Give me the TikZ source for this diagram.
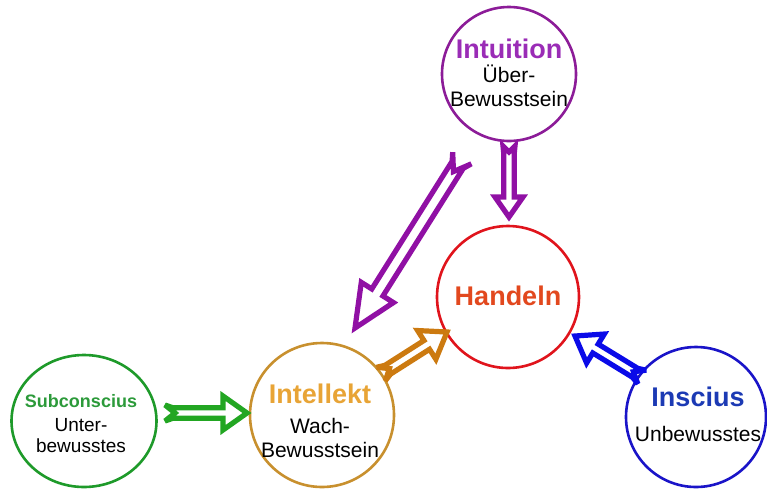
\documentclass[tikz,border=0pt]{standalone}
\usepackage{fontspec}
\setmainfont{Liberation Sans}
\usetikzlibrary{calc,shapes.geometric}

\definecolor{intucirc}{HTML}{8C1C98}
\definecolor{intutext}{HTML}{9A2CB6}
\definecolor{intuarrow}{HTML}{9010A4}
\definecolor{handcirc}{HTML}{E0141C}
\definecolor{handtext}{HTML}{E2481E}
\definecolor{intelcirc}{HTML}{C8902E}
\definecolor{inteltext}{HTML}{E8A436}
\definecolor{intelarrow}{HTML}{CC7A10}
\definecolor{subcirc}{HTML}{1E9A2A}
\definecolor{subtext}{HTML}{2C9A3A}
\definecolor{subarrow}{HTML}{22A622}
\definecolor{insccirc}{HTML}{1A14C8}
\definecolor{insctext}{HTML}{1C3AB4}
\definecolor{inscarrow}{HTML}{0A0AE8}

\newcommand{\headline}[2]{{\color{#1}\bfseries\fontsize{13.5}{14}\selectfont #2}}

% colour, tail, tip, shaft, tail flare, head length, head width, notch
\newcommand{\fatarrow}[8]{%
  \draw[fat, draw=#1]
    ($(#2)!#5!90:(#3)$) -- ($(#2)!4pt!(#3)!#4!90:(#3)$)
    -- ($(#3)!#6!(#2)!#4!90:(#3)$) -- ($(#3)!#6!(#2)!#7!90:(#3)$)
    -- (#3)
    -- ($(#3)!#6!(#2)!#7!-90:(#3)$) -- ($(#3)!#6!(#2)!#4!-90:(#3)$)
    -- ($(#2)!4pt!(#3)!#4!-90:(#3)$) -- ($(#2)!#5!-90:(#3)$)
    -- ($(#2)!#8!(#3)$) -- cycle;}

\begin{document}
\begin{tikzpicture}[x=0.5pt, y=-0.5pt,
  ring/.style={circle, draw, line width=1.3pt, inner sep=0pt},
  txt/.style={align=center, inner sep=0pt, font=\fontsize{10.5}{12}\selectfont},
  fat/.style={line width=2.6pt, fill=white, line join=miter, miter limit=3}]

 \useasboundingbox (0,0) rectangle (767,489);

 \node[ring, draw=intucirc, minimum size=67pt] (intu) at (509,74) {};
 \node[txt] (intutxt) at (509,73) {\headline{intutext}{Intuition}\\Über-\\Bewusstsein};

 \node[ring, draw=handcirc, minimum size=71pt] (hand) at (508,297) {};
 \node[txt] (handtxt) at (508,296) {\headline{handtext}{Handeln}};

 \node[ring, draw=intelcirc, minimum size=72pt] (intel) at (322,415) {};
 \node[txt] (inteltxt) at (320,421) {\headline{inteltext}{Intellekt}\\[3pt]Wach-\\Bewusstsein};

 \node[ring, ellipse, draw=subcirc, minimum width=72.5pt, minimum height=66pt] (sub) at (84,421) {};
 \node[txt, font=\fontsize{9.5}{10.5}\selectfont] (subtxt) at (81,424)
   {{\color{subtext}\bfseries\fontsize{9}{10}\selectfont Subconscius}\\[1.5pt]Unter-\\bewusstes};

 \node[ring, draw=insccirc, minimum size=70pt] (insc) at (696,417) {};
 \node[txt] (insctxt) at (698,414) {\headline{insctext}{Inscius}\\[5.5pt]Unbewusstes};

 \coordinate (subtail) at (165,413);
 \coordinate (subtip) at (247,413);
 \coordinate (intutail) at (509,146);
 \coordinate (intutip) at (509,217);
 \coordinate (difftail) at (462,158);
 \coordinate (difftip) at (355,328);
 \coordinate (inteltail) at (381,374);
 \coordinate (inteltip) at (447,332);
 \coordinate (insctail) at (642,377);
 \coordinate (insctip) at (575,336);

 \fatarrow{subarrow}{subtail}{subtip}{2.6pt}{4pt}{12pt}{8.5pt}{5pt}
 \fatarrow{intuarrow}{intutail}{intutip}{2.6pt}{3pt}{10pt}{7pt}{3pt}
 \fatarrow{intuarrow}{difftail}{difftip}{3.3pt}{5.5pt}{21pt}{9.5pt}{8pt}
 \fatarrow{intelarrow}{inteltail}{inteltip}{2.6pt}{4pt}{12pt}{8.5pt}{5pt}
 \fatarrow{inscarrow}{insctail}{insctip}{2.6pt}{4pt}{12pt}{8.5pt}{5pt}

\end{tikzpicture}
\end{document}
